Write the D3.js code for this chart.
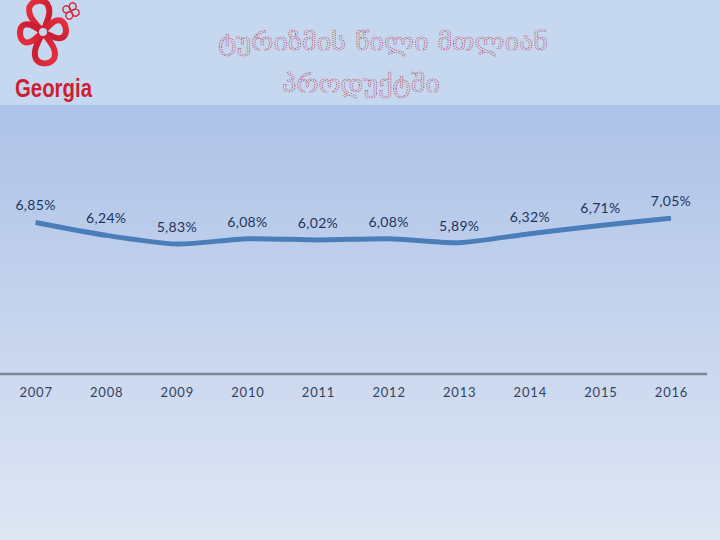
<!DOCTYPE html>
<html><head><meta charset="utf-8">
<script src="https://cdn.jsdelivr.net/npm/d3@7"></script>
<style>html,body{margin:0;padding:0;overflow:hidden;background:#c6d8f0}</style>
</head><body>
<script>
const years = ["2007","2008","2009","2010","2011","2012","2013","2014","2015","2016"];
const values = [6.85, 6.24, 5.83, 6.08, 6.02, 6.08, 5.89, 6.32, 6.71, 7.05];
const valueLabels = ["6,85%","6,24%","5,83%","6,08%","6,02%","6,08%","5,89%","6,32%","6,71%","7,05%"];
const titleLines = ["ტურიზმის წილი მთლიან", "პროდუქტში"];
const logoText = "Georgia";

const W = 720, H = 540;
const svg = d3.select("body").append("svg").attr("width", W).attr("height", H);
const defs = svg.append("defs");
const bg = defs.append("linearGradient").attr("id","bg").attr("x1",0).attr("y1",0).attr("x2",0).attr("y2",1);
bg.append("stop").attr("offset","0%").attr("stop-color","#adc2e7");
bg.append("stop").attr("offset","100%").attr("stop-color","#dfe6f4");
const rg = defs.append("linearGradient").attr("id","red").attr("x1",0).attr("y1",0).attr("x2",1).attr("y2",1);
rg.append("stop").attr("offset","0%").attr("stop-color","#e8303e");
rg.append("stop").attr("offset","100%").attr("stop-color","#c0182c");

svg.append("rect").attr("width",W).attr("height",105).attr("fill","#c6d8f0");
svg.append("rect").attr("y",105).attr("width",W).attr("height",H-105).attr("fill","url(#bg)");

// logo
const logo = svg.append("g").attr("transform","translate(43,32)");
const petals = [
  {a:-10, len:30, w:10},
  {a:80, len:22, w:9},
  {a:175, len:30, w:10},
  {a:265, len:22, w:9}
];
petals.forEach(p=>{
  const L = p.len, w = p.w;
  const d = `M0,0 C${-w*0.5},${-L*0.3} ${-w*1.3},${-L*0.6} ${-w*0.9},${-L*0.9} C${-w*0.5},${-L*1.1} ${w*0.5},${-L*1.1} ${w*0.9},${-L*0.9} C${w*1.3},${-L*0.6} ${w*0.5},${-L*0.3} 0,0 Z`;
  logo.append("path").attr("d",d).attr("transform",`rotate(${p.a})`).attr("fill","none")
    .attr("stroke","url(#red)").attr("stroke-width",6).attr("stroke-linejoin","round");
});
logo.append("circle").attr("r",4).attr("fill","#c6d8f0");
const small = svg.append("g").attr("transform","translate(71,11)");
[0,90,180,270].forEach(a=>{
  small.append("path").attr("d","M0,0 C-3,-2 -4,-5 -3,-7 C-1,-9 1,-9 3,-7 C4,-5 3,-2 0,0 Z")
    .attr("transform",`rotate(${a+20})`).attr("fill","none").attr("stroke","#d8283a").attr("stroke-width",1.4);
});
svg.append("text").attr("x",15).attr("y",97).attr("textLength",77).attr("lengthAdjust","spacingAndGlyphs")
  .attr("font-family","Liberation Sans Narrow, Liberation Sans, sans-serif").attr("font-weight","bold")
  .attr("font-size",25).attr("fill","#cc1f33").text(logoText);

// title
const tpos = [{x:383,y:50,len:330},{x:361,y:92,len:158}];
titleLines.forEach((t,i)=>{
  svg.append("text").attr("x",tpos[i].x).attr("y",tpos[i].y).attr("text-anchor","middle")
    .attr("textLength",tpos[i].len).attr("lengthAdjust","spacingAndGlyphs")
    .attr("font-family","DejaVu Sans, Noto Sans, sans-serif").attr("font-size",23).attr("font-weight","normal")
    .attr("fill","none").attr("stroke","#b8283c").attr("stroke-width",0.6)
    .attr("stroke-dasharray","1,1").text(t);
});

// scales
const x = d3.scalePoint().domain(years).range([35.6, 671]);
const y = d3.scaleLinear().domain([0, 8]).range([367, 367 - 8*21.1]);

// axis
const axis = svg.append("g").attr("transform","translate(0,374)")
  .call(d3.axisBottom(x).tickSize(0).tickPadding(14));
axis.select(".domain").remove();
axis.append("line").attr("x1",0).attr("x2",707).attr("stroke","#7d8995").attr("stroke-width",2.5);
axis.selectAll(".tick text").attr("font-family","Lato, sans-serif").attr("font-size",13)
  .attr("letter-spacing","0.8px").attr("fill","#34435c");

// line
const line = d3.line().x((d,i)=>x(years[i])).y(d=>y(d)).curve(d3.curveCardinal.tension(0.3));
svg.append("path").datum(values).attr("d",line).attr("fill","none")
  .attr("stroke","#4a7ebb").attr("stroke-width",5);

// labels
svg.append("g").selectAll("text").data(values).join("text")
  .attr("x",(d,i)=>x(years[i])).attr("y",d=>y(d)-12)
  .attr("text-anchor","middle").attr("font-family","Lato, sans-serif").attr("font-size",14)
  .attr("letter-spacing","0.3px").attr("fill","#1c355c").text((d,i)=>valueLabels[i]);
</script>
</body></html>
